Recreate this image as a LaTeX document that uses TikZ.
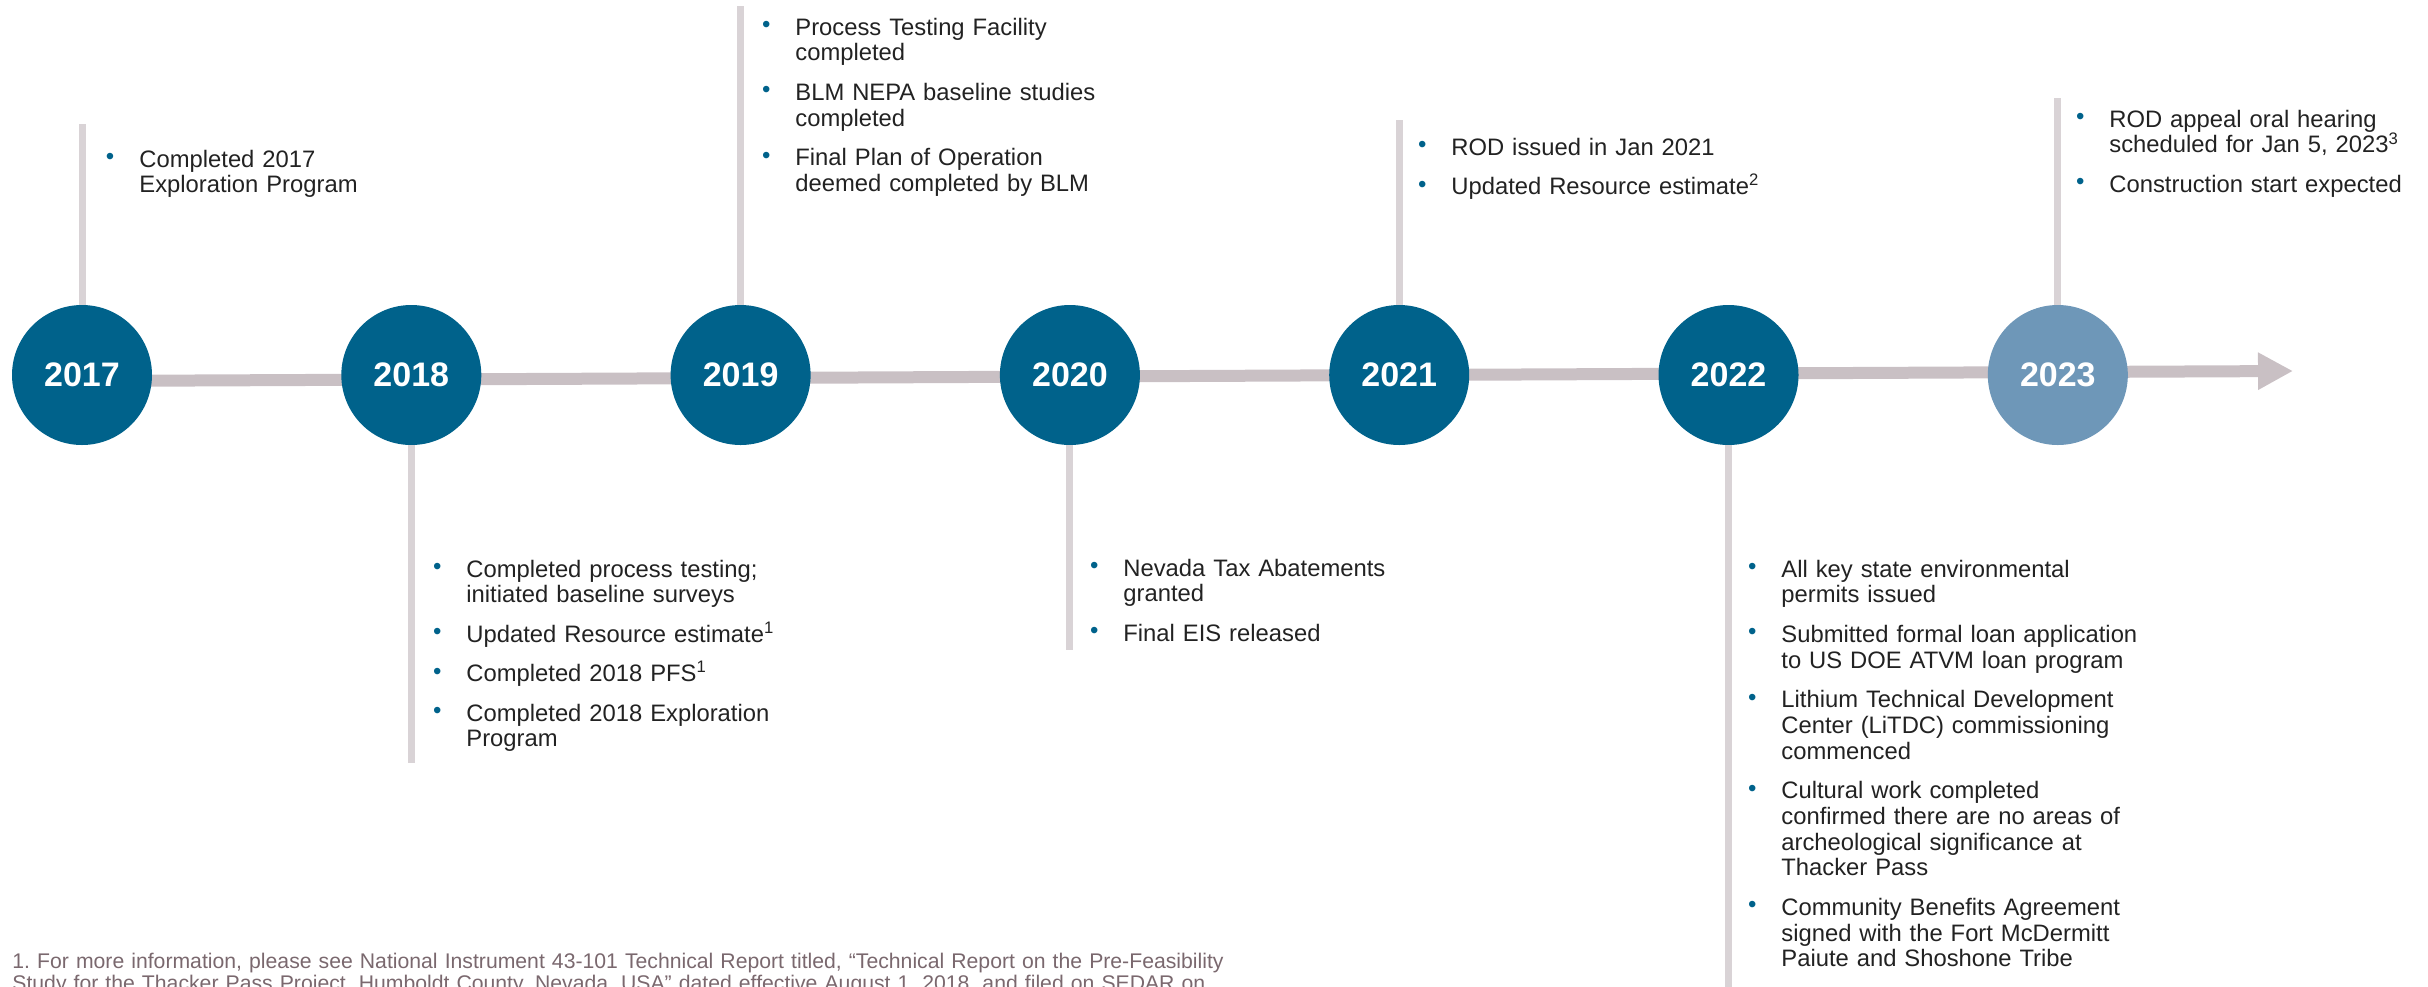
\documentclass[tikz,border=0pt]{standalone}
\usepackage{fontspec}
\setmainfont{Liberation Sans}
\usetikzlibrary{positioning, arrows.meta}

\definecolor{yearblue}{HTML}{00628B}
\definecolor{yearpale}{HTML}{6E97B8}
\definecolor{axisgrey}{HTML}{C9C0C4}
\definecolor{stemgrey}{HTML}{D9D3D6}
\definecolor{bodytext}{HTML}{222222}
\definecolor{notegrey}{HTML}{7A686E}

% blue bullet hanging in the left margin of a milestone list
\newcommand{\bul}{\leavevmode\llap{\textcolor{yearblue}{\raisebox{0.1em}{\large\textbullet}}\hspace{12.5pt}}}

\begin{document}
\begin{tikzpicture}[
            x=0.5pt, y=-0.5pt,
            year/.style={circle, fill=yearblue, minimum size=70pt, inner sep=0pt,
                text=white, font=\fontsize{17}{20}\selectfont\bfseries},
            stem/.style={draw=stemgrey, line width=3.5pt},
            axis/.style={draw=axisgrey, line width=6pt, -{Triangle[length=17.5pt, width=17.5pt]}},
            note/.style={anchor=base west, inner sep=0pt, text width=180pt, align=left,
                text=bodytext, font=\fontsize{11.9}{12.9}\selectfont},
        ]
            \useasboundingbox (0,0) rectangle (2428,986);
            \clip (0,0) rectangle (2428,986);

            % time axis, slightly rising to the right
            \coordinate (start) at (82,381);
            \coordinate (tip) at (2293,371);
            \draw[axis] (start) -- (tip);

            % years
            \node[year] (y2017) at (82,375) {2017};
            \node[year, right=94.25pt of y2017] (y2018) {2018};
            \node[year, right=94.25pt of y2018] (y2019) {2019};
            \node[year, right=94.25pt of y2019] (y2020) {2020};
            \node[year, right=94.25pt of y2020] (y2021) {2021};
            \node[year, right=94.25pt of y2021] (y2022) {2022};
            \node[year, right=94.25pt of y2022, fill=yearpale] (y2023) {2023};

            % stems up and down
            \foreach \yr/\e in {2017/124, 2019/6, 2021/120, 2023/98, 2018/763, 2020/650, 2022/1000}
                \draw[stem] (y\yr) -- (y\yr |- 0,\e);

            % milestones
            \node[note] (t2017) at (139,167) {\bul Completed 2017\\Exploration Program};
            \node[note] (t2018) at (466,577) {\bul Completed process testing;\\initiated baseline surveys\\[6.8pt]
                \bul Updated Resource estimate\textsuperscript{1}\\[6.8pt]
                \bul Completed 2018 PFS\textsuperscript{1}\\[6.8pt]
                \bul Completed 2018 Exploration\\Program};
            \node[note] (t2019) at (795,35) {\bul Process Testing Facility\\completed\\[6.8pt]
                \bul BLM NEPA baseline studies\\completed\\[6.8pt]
                \bul Final Plan of Operation\\deemed completed by BLM};
            \node[note] (t2020) at (1123,576) {\bul Nevada Tax Abatements\\granted\\[6.8pt]
                \bul Final EIS released};
            \node[note] (t2021) at (1451,155) {\bul ROD issued in Jan 2021\\[6.8pt]
                \bul Updated Resource estimate\textsuperscript{2}};
            \node[note] (t2022) at (1781,577) {\bul All key state environmental\\permits issued\\[6.8pt]
                \bul Submitted formal loan application\\to US DOE ATVM loan program\\[6.8pt]
                \bul Lithium Technical Development\\Center (LiTDC) commissioning\\commenced\\[6.8pt]
                \bul Cultural work completed\\confirmed there are no areas of\\archeological significance at\\Thacker Pass\\[6.8pt]
                \bul Community Benefits Agreement\\signed with the Fort McDermitt\\Paiute and Shoshone Tribe};
            \node[note, text width=150pt] (t2023) at (2109,127) {\bul ROD appeal oral hearing\\scheduled for Jan 5, 2023\textsuperscript{3}\\[6.8pt]
                \bul Construction start expected};

            % footnote
            \node[note, text width=700pt, text=notegrey, font=\fontsize{10.6}{11}\selectfont] (fn) at (12,968)
                {1.\ For more information, please see National Instrument 43-101 Technical Report titled, ``Technical Report on the Pre-Feasibility\\
                Study for the Thacker Pass Project, Humboldt County, Nevada, USA'' dated effective August 1, 2018, and filed on SEDAR on};
        \end{tikzpicture}
\end{document}
